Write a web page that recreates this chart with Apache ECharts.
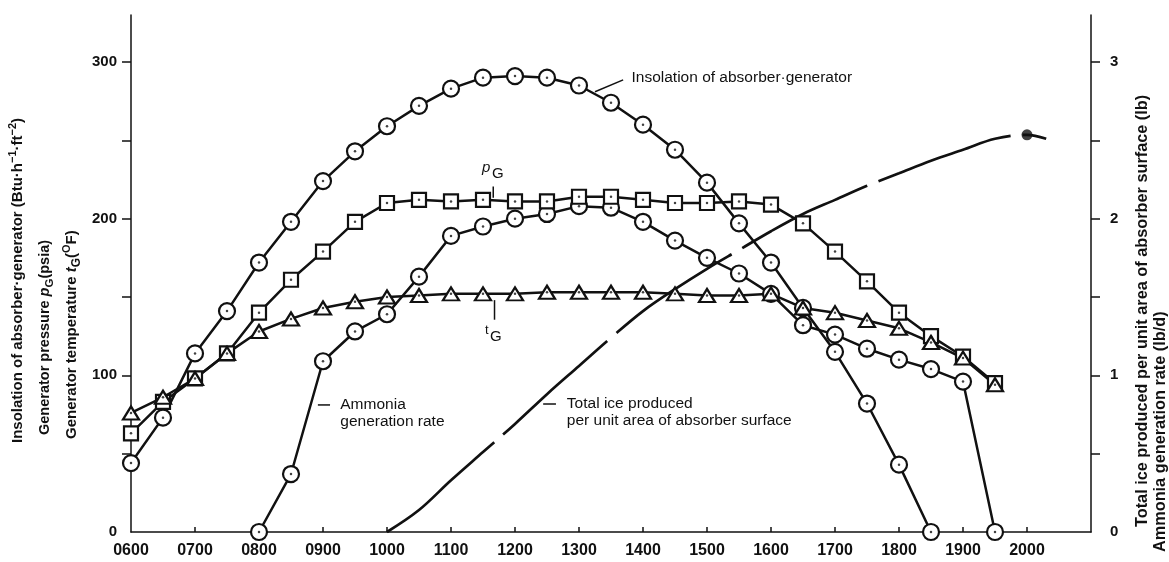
<!DOCTYPE html>
<html>
<head>
<meta charset="utf-8">
<script src="https://cdn.jsdelivr.net/npm/echarts@6/dist/echarts.min.js"></script>
<style>
  html, body { margin: 0; padding: 0; background: #fff; }
  #chart { width: 1169px; height: 562px; }
</style>
</head>
<body>
<div id="chart"></div>
<script>
// clock time in decimal hours (6.5 = 0630), readings every half hour
const hours = [6, 6.5, 7, 7.5, 8, 8.5, 9, 9.5, 10, 10.5, 11, 11.5, 12, 12.5,
  13, 13.5, 14, 14.5, 15, 15.5, 16, 16.5, 17, 17.5, 18, 18.5, 19, 19.5]

// insolation of absorber-generator, Btu/(h ft2), 0600 - 1830
const insolation = [44, 73, 114, 141, 172, 198, 224, 243, 259, 272, 283, 290, 291, 290,
  285, 274, 260, 244, 223, 197, 172, 143, 115, 82, 43, 0]
// generator pressure pG, psia
const pressure = [63, 83, 98, 114, 140, 161, 179, 198, 210, 212, 211, 212, 211, 211,
  214, 214, 212, 210, 210, 211, 209, 197, 179, 160, 140, 125, 112, 95]
// generator temperature tG, F
const temperature = [76, 86, 98, 114, 128, 136, 143, 147, 150, 151, 152, 152, 152, 153,
  153, 153, 153, 152, 151, 151, 152, 143, 140, 135, 130, 121, 111, 94]

// ammonia generation rate, starts 0800 (plotted on the left scale)
const ammoniaHours = [8, 8.5, 9, 9.5, 10, 10.5, 11, 11.5, 12, 12.5, 13, 13.5,
  14, 14.5, 15, 15.5, 16, 16.5, 17, 17.5, 18, 18.5, 19, 19.5]
const ammonia = [0, 37, 109, 128, 139, 163, 189, 195, 200, 203, 208, 207,
  198, 186, 175, 165, 152, 132, 126, 117, 110, 104, 96, 0]

// total ice produced per unit area, lb (right scale)
const iceHours = [10, 10.5, 11, 11.5, 12, 12.5, 13, 13.5, 14, 14.5, 15, 15.5,
  16, 16.5, 17, 17.5, 18, 18.5, 19, 19.5, 20, 20.3]
const ice = [0, 0.14, 0.33, 0.51, 0.69, 0.88, 1.06, 1.24, 1.41, 1.55, 1.68, 1.80,
  1.92, 2.03, 2.12, 2.21, 2.29, 2.37, 2.44, 2.51, 2.535, 2.51]
const iceMarkHour = 20

const xLabels = [6, 7, 8, 9, 10, 11, 12, 13, 14, 15, 16, 17, 18, 19, 20]
const leftLabels = [0, 100, 200, 300]
const rightLabels = [0, 1, 2, 3]

const ink = '#111'
const chart = echarts.init(document.getElementById('chart'))

function pairs (xs, ys) {
  return ys.map((y, i) => [xs[i], y])
}

// open marker series plus a tiny centre dot
function marked (name, data, symbol, size) {
  return [
    {
      name: name,
      type: 'line',
      data: data,
      symbol: symbol,
      symbolSize: size,
      showAllSymbol: true,
      lineStyle: { color: ink, width: 2.5 },
      itemStyle: { color: '#fff', borderColor: ink, borderWidth: 2.2 },
      emphasis: { disabled: true },
      animation: false
    },
    {
      type: 'scatter',
      data: data,
      symbol: 'circle',
      symbolSize: 2.5,
      itemStyle: { color: ink },
      silent: true,
      z: 3,
      animation: false
    }
  ]
}

const tickFont = { color: ink, fontWeight: 'bold', fontFamily: 'Liberation Sans, Arial, sans-serif' }

const iceMark = pairs(iceHours, ice).filter(p => p[0] === iceMarkHour)

chart.setOption({
  backgroundColor: '#fff',
  animation: false,
  grid: { left: 131, right: 78, top: 15, bottom: 30, containLabel: false },
  xAxis: {
    type: 'value',
    min: 6,
    max: 21,
    interval: 1,
    axisLine: { show: true, lineStyle: { color: ink, width: 1.5 } },
    axisTick: { show: true, inside: true, length: 5, lineStyle: { color: ink, width: 1.5 },
      customValues: xLabels.slice(1) },
    axisLabel: {
      customValues: xLabels,
      margin: 11,
      ...tickFont,
      fontFamily: 'Liberation Sans Narrow, Liberation Sans, sans-serif',
      fontSize: 16,
      formatter: v => String(Math.round(v * 100)).padStart(4, '0')
    },
    splitLine: { show: false }
  },
  yAxis: [
    {
      type: 'value',
      min: 0,
      max: 330,
      axisLine: { show: true, lineStyle: { color: ink, width: 1.5 } },
      axisTick: { show: true, length: 9, lineStyle: { color: ink, width: 1.5 },
        customValues: [50, 100, 150, 200, 250, 300] },
      axisLabel: { customValues: leftLabels, margin: 14, fontSize: 15, ...tickFont },
      splitLine: { show: false }
    },
    {
      type: 'value',
      min: 0,
      max: 3.3,
      position: 'right',
      axisLine: { show: true, lineStyle: { color: ink, width: 1.5 } },
      axisTick: { show: true, length: 9, lineStyle: { color: ink, width: 1.5 },
        customValues: [0.5, 1, 1.5, 2, 2.5, 3] },
      axisLabel: { customValues: rightLabels, margin: 19, fontSize: 15, ...tickFont },
      splitLine: { show: false }
    }
  ],
  series: [
    {
      name: 'Total ice produced',
      type: 'line',
      yAxisIndex: 1,
      data: pairs(iceHours, ice),
      smooth: 0.35,
      symbol: 'none',
      lineStyle: { color: ink, width: 2.7, type: [140, 12], dashOffset: 0 },
      emphasis: { disabled: true }
    },
    {
      type: 'scatter',
      yAxisIndex: 1,
      data: iceMark,
      symbol: 'circle',
      symbolSize: 11,
      itemStyle: { color: ink },
      silent: true
    },
    ...marked('Ammonia generation rate', pairs(ammoniaHours, ammonia), 'circle', 16),
    ...marked('Insolation', pairs(hours, insolation), 'circle', 16),
    ...marked('pG', pairs(hours, pressure), 'rect', 14),
    ...marked('tG', pairs(hours, temperature), 'triangle', [16, 13])
  ]
})

// annotations placed in data coordinates (hour, left-axis value)
const px = (h, v) => chart.convertToPixel({ gridIndex: 0 }, [h, v])
const noteFont = 'normal 15.5px "Liberation Sans", Arial, sans-serif'
const titleFont = { fontFamily: 'Liberation Sans, Arial, sans-serif', fontWeight: 'bold', fill: ink }

function note (h, v, text, extra) {
  const p = px(h, v)
  return { type: 'text', x: p[0], y: p[1], silent: true,
    style: Object.assign({ text: text, font: noteFont, fill: ink, align: 'left', verticalAlign: 'middle', lineHeight: 17 }, extra || {}) }
}
function leader (h1, v1, h2, v2) {
  const a = px(h1, v1)
  const b = px(h2, v2)
  return { type: 'line', silent: true, shape: { x1: a[0], y1: a[1], x2: b[0], y2: b[1] },
    style: { stroke: ink, lineWidth: 1.5 } }
}

function richTitle (size) {
  const fam = 'Liberation Sans, Arial, sans-serif'
  return {
    a: { fontSize: size, fontWeight: 'bold', fontFamily: fam, lineHeight: 22, verticalAlign: 'middle' },
    i: { fontSize: size, fontWeight: 'bold', fontStyle: 'italic', fontFamily: fam, lineHeight: 22, verticalAlign: 'middle' },
    sub: { fontSize: size - 3, fontWeight: 'bold', fontFamily: fam, lineHeight: 11, verticalAlign: 'bottom' },
    sup: { fontSize: size - 4, fontWeight: 'bold', fontFamily: fam, lineHeight: 11, verticalAlign: 'top' }
  }
}
function vtitle (x, y, text, size) {
  return { type: 'text', x: x, y: y, rotation: Math.PI / 2, silent: true,
    style: Object.assign({ text: text, align: 'left', verticalAlign: 'middle', fontSize: size, rich: richTitle(size) }, titleFont) }
}

chart.setOption({
  graphic: [
    note(13.82, 290, 'Insolation of absorber·generator'),
    leader(13.25, 281, 13.69, 288.6),
    note(11.55, 232.5, 'p', { font: 'italic 15px "Liberation Sans", sans-serif', align: 'center' }),
    note(11.73, 228.5, 'G', { font: 'normal 15px "Liberation Sans", sans-serif', align: 'center' }),
    leader(11.66, 220.5, 11.66, 213.3),
    note(11.56, 128.5, 't', { font: 'normal 13px "Liberation Sans", sans-serif', align: 'center' }),
    note(11.7, 124.3, 'G', { font: 'normal 15px "Liberation Sans", sans-serif', align: 'center' }),
    leader(11.68, 148, 11.68, 135.5),
    note(9.27, 75.8, 'Ammonia\ngeneration rate'),
    leader(8.92, 81.1, 9.11, 81.1),
    note(12.81, 76.4, 'Total ice produced\nper unit area of absorber surface'),
    leader(12.44, 81.7, 12.64, 81.7),
    vtitle(18, 443, '{a|Insolation of absorber·generator (Btu·h}{sup|−1}{a|·ft}{sup|−2}{a|)}', 15),
    vtitle(45, 435, '{a|Generator pressure }{i|p}{sub|G}{a|(psia)}', 14.5),
    vtitle(72, 439, '{a|Generator temperature }{i|t}{sub|G}{a|(}{sup|O}{a|F)}', 15),
    vtitle(1143, 527, '{a|Total ice produced per unit area of absorber surface (lb)}', 16.3),
    vtitle(1161, 552, '{a|Ammonia generation rate (lb/d)}', 16.3)
  ]
})
</script>
</body>
</html>
